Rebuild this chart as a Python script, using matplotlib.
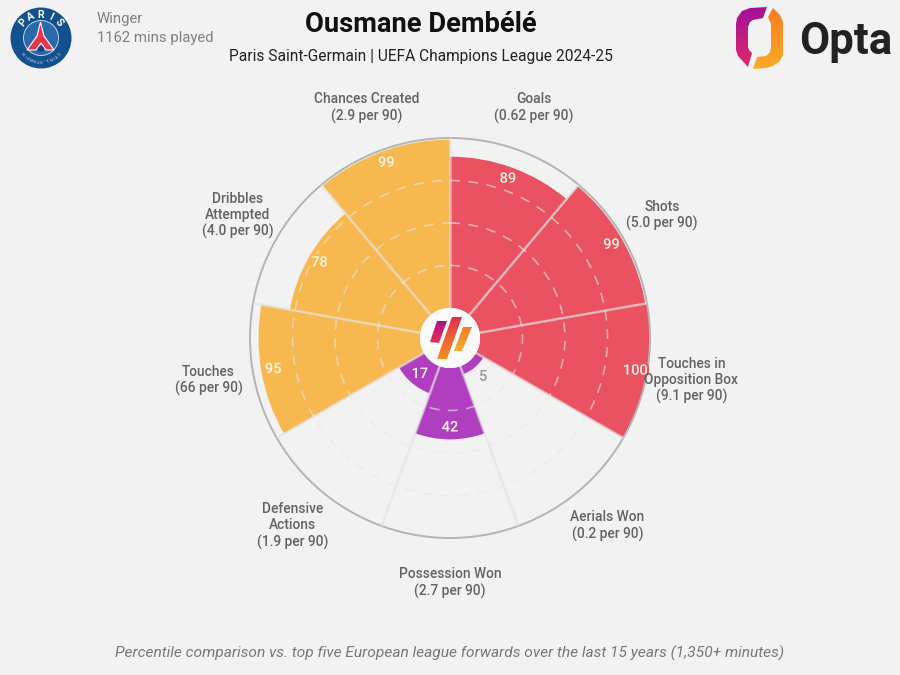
import numpy as np
import matplotlib
matplotlib.use('Agg')
import matplotlib.pyplot as plt
import matplotlib.patheffects as pe
from matplotlib.patches import Circle, Polygon

# metrics, clockwise from the top
categories = ['Goals', 'Shots', 'Touches in\nOpposition Box', 'Aerials Won', 'Possession Won',
              'Defensive\nActions', 'Touches', 'Dribbles\nAttempted', 'Chances Created']
per_90 = ['0.62', '5.0', '9.1', '0.2', '2.7', '1.9', '66', '4.0', '2.9']
percentiles = [89, 99, 100, 5, 42, 17, 95, 78, 99]
groups = ['attack', 'attack', 'attack', 'defence', 'defence', 'defence', 'poss', 'poss', 'poss']
rings = [25, 50, 75]

group_colors = {'attack': '#ea5161', 'defence': '#b03fc0', 'poss': '#f7b84f'}
bg = '#f2f2f2'
label_col = '#636363'

plt.rcParams['font.family'] = ['Roboto', 'DejaVu Sans']

fig = plt.figure(figsize=(9, 6.75), dpi=100, facecolor=bg)

# polar axes: 200 px radius around (450, 338), with a 30 px hole in the middle
ax = fig.add_axes([250 / 900, (675 - 538) / 675, 400 / 900, 400 / 675], projection='polar', facecolor='none')
ax.set_theta_zero_location('N')
ax.set_theta_direction(-1)
ax.set_rorigin(-30 / 1.7)
ax.set_ylim(0, 100)

n = len(categories)
width = 2 * np.pi / n
theta = (np.arange(n) + 0.5) * width

cols = [group_colors[g] for g in groups]
ax.bar(theta, percentiles, width=width, bottom=0, color=cols, linewidth=0, zorder=2)

# grid goes over the bars
ax.set_axisbelow(False)
ax.set_xticks(np.arange(n) * width)
ax.set_yticks(rings)
ax.set_xticklabels([])
ax.set_yticklabels([])
ax.tick_params(length=0)
ax.xaxis.grid(True, color='#e4e4e4', alpha=0.65, linewidth=1.8, linestyle='-')
ax.yaxis.grid(True, color='#e8e8e8', alpha=0.6, linewidth=1.2, linestyle=(0, (6, 5)))
ax.spines['polar'].set_color('#b4b4b4')
ax.spines['polar'].set_linewidth(1.4)
# draw() switches the inner spine back on, so make it invisible by width
ax.spines['inner'].set_linewidth(0)

# percentile values inside the bars, small ones just outside
for t, v, c in zip(theta, percentiles, cols):
    if v < 10:
        ax.text(t, v + 7, str(v), ha='center', va='center', fontsize=10.5, color='#9a9a9a', fontweight='medium')
    else:
        ax.text(t, v - 7, str(v), ha='center', va='center', fontsize=10.5, color='#fff4e4', fontweight='medium',
                path_effects=[pe.withStroke(linewidth=3, foreground=c)], zorder=5)

# metric names outside the ring
for t, name, p in zip(theta, categories, per_90):
    ax.text(t, 126.5, name + '\n(' + p + ' per 90)', ha='center', va='center', fontsize=9.9,
            color=label_col, fontweight='medium', linespacing=1.2, zorder=6)

# overlay in pixel coordinates for the header, footer and logos
ov = fig.add_axes([0, 0, 1, 1], facecolor='none')
ov.axis('off')


def gradient_poly(points, c1, c2, vertical=True):
    # polygon filled with a linear gradient between two colours
    pts = np.array(points, dtype=float)
    x0, x1, y0, y1 = pts[:, 0].min(), pts[:, 0].max(), pts[:, 1].min(), pts[:, 1].max()
    steps = np.linspace(0, 1, 64)
    rgb1 = np.array(matplotlib.colors.to_rgb(c1))
    rgb2 = np.array(matplotlib.colors.to_rgb(c2))
    line = np.outer(1 - steps, rgb1) + np.outer(steps, rgb2)
    img = line[:, None, :] if vertical else line[None, :, :]
    im = ov.imshow(img, extent=[x0, x1, y1, y0], aspect='auto', zorder=8, interpolation='bilinear')
    poly = Polygon(pts, closed=True, transform=ov.transData, facecolor='none', edgecolor='none')
    ov.add_patch(poly)
    im.set_clip_path(poly)


# centre badge
ov.add_patch(Circle((450, 338), 30, facecolor='#fafafa', edgecolor='none', zorder=7))
gradient_poly([(437, 321), (447, 321), (439, 343), (430, 342)], '#a8148c', '#e8304e')
gradient_poly([(452, 317), (462, 317), (447, 359), (437, 359)], '#e0304e', '#f79020')
gradient_poly([(463, 327), (472, 327), (462, 351), (454, 351)], '#f57a28', '#f9ae30')

# club crest
ov.add_patch(Circle((41, 38), 30.5, facecolor='#12508f', edgecolor='none', zorder=7))
ov.add_patch(Circle((41, 38), 17.5, facecolor='#2a6aa8', edgecolor='#dfe8f2', linewidth=0.6, zorder=8))
ov.add_patch(Polygon([(40.5, 22), (44, 36), (54, 50), (46, 50), (41, 43), (36, 50), (27, 50), (37, 36)],
                     closed=True, facecolor='#e8344a', edgecolor='white', linewidth=0.8, zorder=9))
ov.add_patch(Circle((41, 49), 3, facecolor='#1c3f7a', edgecolor='none', zorder=9))
for letter, ang in zip('PARIS', [-50, -26, 0, 26, 50]):
    a = np.radians(ang)
    ov.text(41 + 23.5 * np.sin(a), 38 - 23.5 * np.cos(a), letter, ha='center', va='center', fontsize=7.5,
            color='white', fontweight='bold', rotation=-ang, zorder=9)
for letter, ang in zip('SAINT-GERMAIN', np.linspace(48, -48, 13)):
    a = np.radians(ang)
    ov.text(41 + 25 * np.sin(a), 38 + 25 * np.cos(a), letter, ha='center', va='center', fontsize=3,
            color='#d8e4f0', rotation=ang, zorder=9)

# opta logo
gradient_poly([(767, 7), (750, 8), (742, 11), (737, 18), (736, 24), (736, 50), (738, 56), (748, 67), (752, 53),
               (749, 50), (748, 47), (748, 27), (750, 22), (753, 20), (763, 18)], '#a0129a', '#e0286a')
gradient_poly([(773, 8), (780, 15), (783, 22), (783, 55), (780, 61), (773, 66), (766, 68), (753, 69), (757, 57),
               (766, 56), (770, 52), (771, 48), (771, 24), (768, 17)], '#f57c20', '#fcaa28')
ov.text(846, 42, 'Opta', ha='center', va='center', fontsize=31.5, fontweight='bold', color='#222222', zorder=9)

# header and footer
ov.text(421, 24, 'Ousmane Dembélé', ha='center', va='center', fontsize=19.7, fontweight='bold', color='#111111')
ov.text(421, 56, 'Paris Saint-Germain | UEFA Champions League 2024-25', ha='center', va='center',
        fontsize=11.2, color='#222222')
ov.text(97, 19, 'Winger', ha='left', va='center', fontsize=10.7, color='#808080')
ov.text(97, 38, '1162 mins played', ha='left', va='center', fontsize=10.7, color='#808080')
ov.text(450, 653, 'Percentile comparison vs. top five European league forwards over the last 15 years (1,350+ minutes)',
        ha='center', va='center', fontsize=11.15, style='italic', color='#777777')

# limits last, imshow resets them
ov.set_xlim(0, 900)
ov.set_ylim(675, 0)

fig.savefig('out.png', dpi=100, facecolor=bg)
